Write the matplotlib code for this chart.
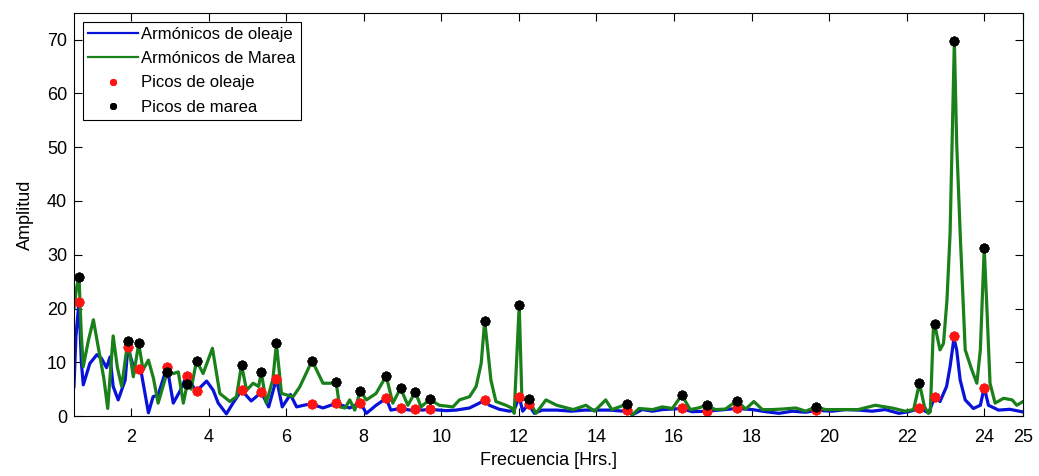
import matplotlib
matplotlib.use("Agg")
import matplotlib.pyplot as plt

plt.rcParams['font.family'] = ['Liberation Sans', 'DejaVu Sans']

# Tide harmonics (green)
tide_x = [0.53, 0.60, 0.66, 0.72, 0.77, 0.90, 1.03, 1.20, 1.30, 1.40, 1.54, 1.65, 1.76, 1.92,
          2.06, 2.20, 2.31, 2.45, 2.58, 2.70, 2.93, 3.09, 3.22, 3.35, 3.45, 3.55, 3.69, 3.86,
          4.10, 4.29, 4.55, 4.72, 4.85, 4.98, 5.15, 5.29, 5.36, 5.49, 5.66, 5.75, 5.88, 6.18,
          6.35, 6.67, 6.95, 7.20, 7.29, 7.38, 7.52, 7.64, 7.77, 7.91, 8.07, 8.32, 8.58, 8.75,
          8.95, 9.14, 9.33, 9.48, 9.70, 9.95, 10.30, 10.47, 10.73, 10.90, 11.03, 11.12, 11.20,
          11.28, 11.41, 11.67, 11.84, 11.88, 12.01, 12.08, 12.25, 12.44, 12.70, 12.98, 13.40,
          13.73, 13.95, 14.24, 14.40, 14.78, 14.92, 15.10, 15.45, 15.70, 15.96, 16.20, 16.42,
          16.63, 16.84, 17.07, 17.33, 17.62, 17.85, 18.06, 18.28, 18.54, 18.80, 19.14, 19.40,
          19.67, 19.90, 20.40, 20.75, 21.19, 21.62, 21.96, 22.18, 22.33, 22.46, 22.56, 22.61,
          22.69, 22.72, 22.86, 22.95, 23.04, 23.12, 23.23, 23.29, 23.38, 23.51, 23.68, 23.81,
          23.90, 24.00, 24.06, 24.15, 24.28, 24.50, 24.72, 24.84, 25.00]
tide_y = [20.0, 24.0, 25.8, 15.0, 9.2, 14.0, 17.9, 11.0, 7.0, 1.4, 14.9, 9.0, 5.5, 14.0,
          7.3, 13.5, 8.6, 10.4, 7.0, 2.4, 8.1, 7.9, 8.2, 2.4, 6.0, 5.0, 10.3, 7.9,
          12.6, 4.2, 2.7, 3.6, 9.5, 4.8, 6.1, 5.5, 8.1, 2.4, 6.9, 13.5, 4.2, 3.6,
          5.4, 10.3, 6.1, 6.1, 6.3, 1.7, 1.5, 3.0, 1.1, 4.65, 3.0, 4.2, 7.45, 2.4,
          5.15, 2.0, 4.5, 1.7, 3.1, 2.0, 1.7, 3.0, 3.6, 5.5, 9.8, 17.7, 12.3,
          6.7, 2.7, 2.0, 1.4, 0.5, 20.7, 3.0, 3.2, 0.5, 3.0, 2.0, 1.2,
          2.0, 0.9, 3.0, 1.2, 2.2, 0.2, 1.4, 1.2, 1.7, 1.4, 3.9, 1.2,
          1.5, 2.0, 1.2, 1.3, 2.85, 1.3, 2.7, 1.2, 1.2, 1.3, 1.5, 0.9,
          1.75, 1.2, 1.2, 1.2, 2.0, 1.5, 0.9, 1.2, 6.1, 1.7, 0.5, 0.8,
          16.6, 17.1, 12.3, 13.5, 21.6, 34.0, 69.8, 50.8, 34.0, 12.3, 8.6, 6.1,
          12.3, 31.2, 21.6, 6.1, 2.4, 3.3, 3.0, 2.0, 2.7]

# Wave harmonics (blue)
wave_x = [0.53, 0.58, 0.66, 0.72, 0.77, 0.94, 1.12, 1.24, 1.37, 1.46, 1.54, 1.67, 1.85, 1.92,
          2.10, 2.20, 2.27, 2.45, 2.57, 2.70, 2.93, 3.09, 3.26, 3.43, 3.60, 3.69, 3.95, 4.12,
          4.25, 4.46, 4.63, 4.85, 5.10, 5.36, 5.55, 5.75, 5.90, 6.11, 6.27, 6.52, 6.67, 6.95,
          7.29, 7.64, 7.91, 8.07, 8.32, 8.58, 8.70, 8.95, 9.20, 9.33, 9.52, 9.70, 9.95, 10.13,
          10.38, 10.73, 11.12, 11.24, 11.50, 11.76, 11.88, 12.01, 12.10, 12.25, 12.40, 12.60,
          12.98, 13.35, 13.70, 14.00, 14.35, 14.70, 14.78, 14.92, 15.18, 15.45, 15.70, 15.96,
          16.20, 16.47, 16.84, 17.16, 17.62, 18.02, 18.37, 18.71, 19.05, 19.40, 19.67, 20.08,
          20.43, 20.77, 21.11, 21.45, 21.80, 22.05, 22.33, 22.57, 22.72, 22.86, 23.03, 23.12,
          23.22, 23.29, 23.38, 23.51, 23.72, 23.90, 24.00, 24.11, 24.37, 24.66, 24.97]
wave_y = [5.5, 14.8, 21.3, 10.0, 5.8, 9.8, 11.4, 10.7, 9.0, 11.0, 5.5, 3.0, 6.7, 12.8,
          8.2, 8.7, 7.9, 0.6, 3.6, 3.9, 9.2, 2.4, 4.6, 7.4, 5.5, 4.65, 6.5, 4.8,
          2.4, 0.4, 2.4, 4.8, 2.8, 4.4, 1.7, 6.95, 1.7, 4.0, 1.7, 2.1, 2.2, 1.5,
          2.35, 1.5, 2.5, 0.5, 2.0, 3.3, 1.1, 1.4, 1.1, 1.25, 1.1, 1.25, 1.1, 1.0,
          1.1, 1.5, 2.9, 2.0, 1.25, 0.9, 1.1, 3.6, 0.9, 2.2, 0.5, 1.1,
          1.1, 0.9, 1.1, 1.1, 1.1, 0.9, 1.1, 0.2, 1.2, 0.9, 1.2, 1.3,
          1.4, 0.8, 0.9, 1.1, 1.4, 1.2, 0.8, 0.5, 0.9, 0.7, 1.05, 0.9,
          1.2, 1.1, 0.9, 1.2, 0.5, 0.8, 1.4, 0.6, 3.5, 2.7, 5.5, 9.2,
          14.5, 12.3, 6.7, 3.0, 1.4, 2.0, 5.3, 2.0, 1.1, 1.25, 0.8]

# Peaks
peak_x = [0.66, 1.92, 2.20, 2.93, 3.45, 3.69, 4.85, 5.36, 5.75, 6.67, 7.29, 7.91, 8.58, 8.95,
          9.33, 9.70, 11.12, 12.01, 12.25, 14.78, 16.20, 16.84, 17.62, 19.67, 22.33, 22.72,
          23.23, 24.00]
wave_peak_y = [21.3, 12.8, 8.7, 9.2, 7.4, 4.65, 4.8, 4.4, 6.95, 2.2, 2.35, 2.5, 3.3, 1.4,
               1.25, 1.25, 2.9, 3.6, 2.2, 1.1, 1.4, 0.9, 1.4, 1.05, 1.4, 3.5, 14.9, 5.3]
tide_peak_y = [25.8, 14.0, 13.5, 8.1, 6.0, 10.3, 9.5, 8.1, 13.5, 10.3, 6.3, 4.65, 7.45, 5.15,
               4.5, 3.1, 17.7, 20.7, 3.2, 2.2, 3.9, 2.0, 2.85, 1.75, 6.1, 17.1, 69.8, 31.2]

x_ticks = [2, 4, 6, 8, 10, 12, 14, 16, 18, 20, 22, 24, 25]
y_ticks = [0, 10, 20, 30, 40, 50, 60, 70]

fig = plt.figure(figsize=(10.39, 4.76), dpi=100)
ax = fig.add_axes([0.0712, 0.126, 0.9134, 0.847])

asterisk = (8, 2, 0)
ax.plot(wave_x, wave_y, color='#0812d8', lw=2.3, label='Armónicos de oleaje')
ax.plot(tide_x, tide_y, color='#1a801a', lw=2.3, label='Armónicos de Marea')
ax.plot(peak_x, wave_peak_y, linestyle='none', marker=asterisk, color='#ff1414', ms=7,
        mew=2.0, label='Picos de oleaje')
ax.plot(peak_x, tide_peak_y, linestyle='none', marker=asterisk, color='black', ms=7,
        mew=2.0, label='Picos de marea')

ax.set_xlim(0.53, 25)
ax.set_ylim(0, 75)
ax.set_xticks(x_ticks)
ax.set_xticklabels([str(t) for t in x_ticks])
ax.set_yticks(y_ticks)
ax.tick_params(direction='in', top=True, right=True, labelsize=13, length=6, width=0.8)
ax.tick_params(axis='x', pad=9)
ax.tick_params(axis='y', pad=5)
for s in ax.spines.values():
    s.set_linewidth(0.8)

ax.set_xlabel('Frecuencia [Hrs.]', fontsize=13, labelpad=5)
ax.set_ylabel('Amplitud', fontsize=13, labelpad=9)

leg = ax.legend(loc='upper left', fontsize=12, frameon=True, fancybox=False,
                edgecolor='black', framealpha=1, borderaxespad=0.55,
                handlelength=3.0, handletextpad=0.2, labelspacing=0.55,
                borderpad=0.3, markerscale=0.7)
leg.get_frame().set_linewidth(0.8)
for line in leg.get_lines():
    line.set_linewidth(1.6)

fig.savefig('out.png', dpi=100)
